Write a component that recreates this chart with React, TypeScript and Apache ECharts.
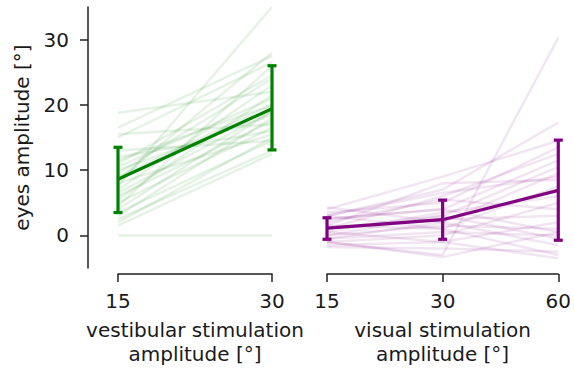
import React, { useEffect, useRef } from "react";
import * as echarts from "echarts";

const vestCategories = ["15", "30"];
const visCategories = ["15", "30", "60"];
const yTicks = [0, 10, 20, 30];

// individual subjects, vestibular [15°, 30°]
const vestSubjects: number[][] = [
  [18.8, 22], [16.5, 27.5], [15.5, 17], [15, 26.5], [13, 14.5], [12, 16],
  [11, 24.5], [10.5, 21], [10, 18.5], [9, 20], [8.5, 28], [8, 15.5],
  [7.5, 35], [7, 23], [6.5, 19], [6, 17.5], [5.5, 21.5], [5, 16.5],
  [4.5, 26], [4, 19], [3.5, 14.5], [3, 18], [2.5, 13], [2, 15],
  [1.5, 12.5], [0, 0], [9.5, 24], [11.5, 20],
];
const vestMean = [8.6, 19.4];
const vestLow = [3.5, 13.1];
const vestHigh = [13.5, 26.0];

// individual subjects, visual [15°, 30°, 60°]
const visSubjects: number[][] = [
  [-1, -3, 30.3], [3, 7, 17.3], [4, 9, 14.5], [3.5, 5, 13.5], [1, 6, 12.5],
  [2.5, 4, 11.5], [0, 3, 10.5], [-0.5, 2, 9.5], [1.5, 8, 8.5], [3, 1, 7.5],
  [0.5, 3.5, 6], [-1, 0, 5], [2, 5.5, 4], [1, 2.5, 3], [-1.5, -1, 2],
  [0, 1.5, 1], [2.5, 4, 0.5], [-0.5, 0.5, 0], [1, 3, -0.5], [4.3, 2, -1.5],
  [-1.8, -2, -2.5], [0.5, -1, -3.5], [1.5, 1, -3], [-1, -3.3, 0.5], [3, 6.5, 9],
];
const visMean = [1.1, 2.4, 6.9];
const visLow = [-0.6, -0.6, -0.75];
const visHigh = [2.7, 5.4, 14.6];

const GREEN = "#008000";
const PURPLE = "#800080";
const TEXT = "#1a1a1a";
const FONT = "DejaVu Sans";

function errorSeries(idx: number, low: number[], high: number[], color: string) {
  return {
    type: "custom",
    xAxisIndex: idx,
    yAxisIndex: idx,
    silent: true,
    z: 5,
    data: low.map((l, i) => [i, l, high[i]]),
    renderItem: (params: any, api: any) => {
      const x = api.value(0);
      const lo = api.coord([x, api.value(1)]);
      const hi = api.coord([x, api.value(2)]);
      const hw = 4.5;
      const style = { stroke: color, lineWidth: 3.2, fill: "none" };
      return {
        type: "group",
        children: [
          { type: "line", shape: { x1: lo[0], y1: lo[1], x2: hi[0], y2: hi[1] }, style },
          { type: "line", shape: { x1: lo[0] - hw, y1: lo[1], x2: lo[0] + hw, y2: lo[1] }, style },
          { type: "line", shape: { x1: hi[0] - hw, y1: hi[1], x2: hi[0] + hw, y2: hi[1] }, style },
        ],
      };
    },
  };
}

function subjectSeries(idx: number, subjects: number[][], color: string) {
  return subjects.map((s) => ({
    type: "line",
    xAxisIndex: idx,
    yAxisIndex: idx,
    data: s,
    silent: true,
    symbol: "none",
    z: 1,
    lineStyle: { color, width: 2.5, opacity: 0.1 },
  }));
}

export default function App() {
  const ref = useRef<HTMLDivElement>(null);
  useEffect(() => {
    if (!ref.current) return;
    const chart = echarts.init(ref.current, null, { renderer: "svg" });
    const xAxisCommon = {
      type: "category",
      boundaryGap: false,
      offset: 6,
      nameLocation: "middle",
      nameGap: 44,
      nameTextStyle: { color: TEXT, fontSize: 20, fontFamily: FONT, lineHeight: 24 },
      axisLine: { onZero: false, lineStyle: { color: "#222", width: 1.5 } },
      axisTick: { inside: false, length: 8, lineStyle: { color: "#222", width: 1.5 } },
      axisLabel: { color: TEXT, fontSize: 20, fontFamily: FONT, margin: 17 },
      splitLine: { show: false },
    };
    chart.setOption({
      animation: false,
      grid: [
        { left: 118, top: 7, width: 154, height: 268 },
        { left: 327, top: 7, width: 233, height: 268 },
      ],
      xAxis: [
        { ...xAxisCommon, gridIndex: 0, data: vestCategories, name: "vestibular stimulation\namplitude [°]" },
        { ...xAxisCommon, gridIndex: 1, data: visCategories, name: "visual stimulation\namplitude [°]" },
      ],
      yAxis: [
        {
          type: "value",
          gridIndex: 0,
          min: -5,
          max: 35,
          offset: 30,
          name: "eyes amplitude [°]",
          nameLocation: "middle",
          nameGap: 56,
          nameTextStyle: { color: TEXT, fontSize: 20, fontFamily: FONT },
          axisLine: { show: true, lineStyle: { color: "#222", width: 1.5 } },
          axisTick: { show: true, inside: false, length: 8, customValues: yTicks, lineStyle: { color: "#222", width: 1.5 } },
          axisLabel: { color: TEXT, fontSize: 20, fontFamily: FONT, margin: 19, customValues: yTicks },
          splitLine: { show: false },
        },
        {
          type: "value",
          gridIndex: 1,
          min: -5,
          max: 35,
          show: false,
          splitLine: { show: false },
        },
      ],
      series: [
        ...subjectSeries(0, vestSubjects, GREEN),
        ...subjectSeries(1, visSubjects, PURPLE),
        {
          type: "line", xAxisIndex: 0, yAxisIndex: 0, data: vestMean, symbol: "none", silent: true, z: 4,
          lineStyle: { color: GREEN, width: 3.2 },
        },
        {
          type: "line", xAxisIndex: 1, yAxisIndex: 1, data: visMean, symbol: "none", silent: true, z: 4,
          lineStyle: { color: PURPLE, width: 3.2 },
        },
        errorSeries(0, vestLow, vestHigh, GREEN),
        errorSeries(1, visLow, visHigh, PURPLE),
      ],
    });
    return () => chart.dispose();
  }, []);
  return <div ref={ref} style={{ width: 574, height: 371, position: "absolute", left: 0, top: 0 }} />;
}
